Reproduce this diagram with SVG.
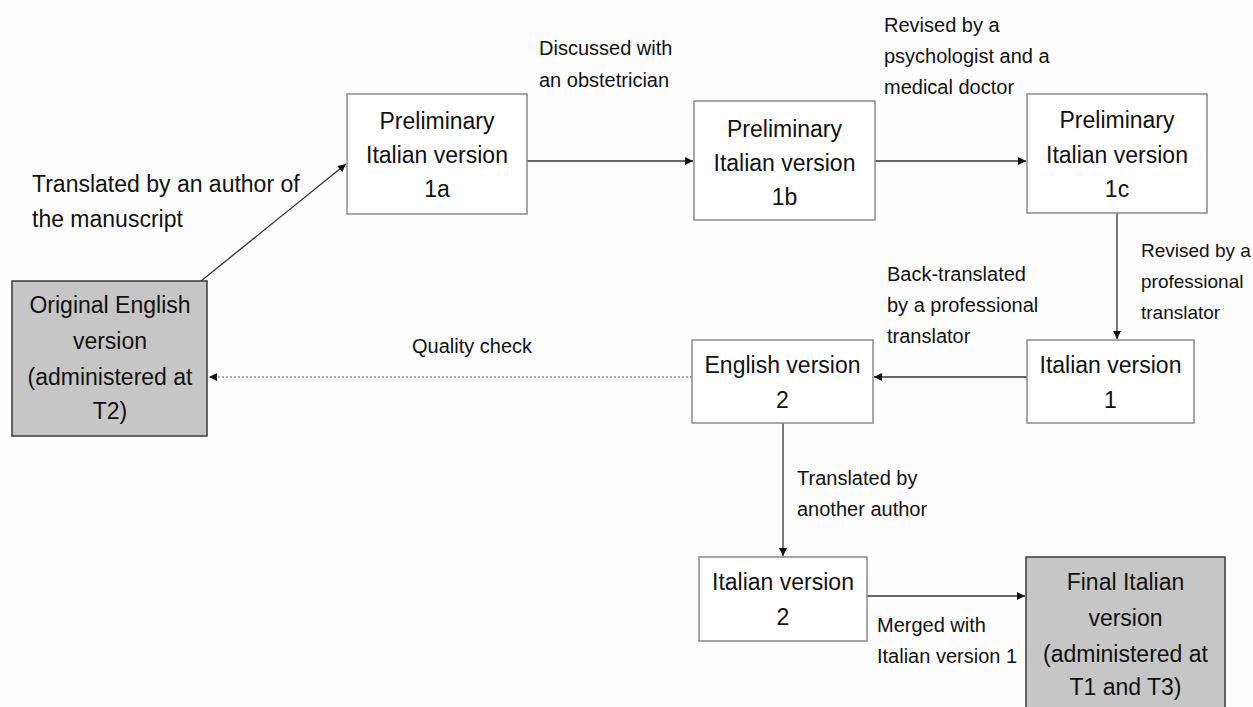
<svg xmlns="http://www.w3.org/2000/svg" width="1253" height="707" viewBox="0 0 1253 707">
<style>
  .box { fill: #ffffff; stroke: #8a8a8a; stroke-width: 1.5; }
  .gbox { fill: #c6c6c6; stroke: #3a3a3a; stroke-width: 1.5; }
  .t { font-family: "Liberation Sans", Arial, sans-serif; font-size: 23px; fill: #111; text-anchor: middle; }
  .lbl { font-family: "Liberation Sans", Arial, sans-serif; font-size: 20px; fill: #111; }
  .lbl19 { font-family: "Liberation Sans", Arial, sans-serif; font-size: 19px; fill: #111; }
  .lbl23 { font-family: "Liberation Sans", Arial, sans-serif; font-size: 23px; fill: #111; }
  .conn { stroke: #333; stroke-width: 1.3; fill: none; marker-end: url(#ah); }
  .dash { stroke: #555; stroke-width: 1.2; fill: none; stroke-dasharray: 2 2; marker-end: url(#ah); }
</style>
<defs>
  <marker id="ah" viewBox="0 0 10 10" refX="10" refY="5" markerWidth="9" markerHeight="8" markerUnits="userSpaceOnUse" orient="auto">
    <path d="M0,0 L10,5 L0,10 z" fill="#111"/>
  </marker>
</defs>
<rect width="1253" height="707" fill="#fdfdfd"/>

<g id="connectors">
  <line class="conn" x1="201" y1="281" x2="346" y2="164"/>
  <line class="conn" x1="527" y1="161" x2="693" y2="161"/>
  <line class="conn" x1="875" y1="161" x2="1026" y2="161"/>
  <line class="conn" x1="1117" y1="213" x2="1117" y2="339"/>
  <line class="conn" x1="1027" y1="377" x2="874" y2="377"/>
  <line class="dash" x1="692" y1="377" x2="209" y2="377"/>
  <line class="conn" x1="783" y1="423" x2="783" y2="556"/>
  <line class="conn" x1="867" y1="596" x2="1025" y2="596"/>
</g>

<g id="labels">
  <text class="lbl23" x="32" y="192">Translated by an author of</text>
  <text class="lbl23" x="32" y="227">the manuscript</text>
  <text class="lbl" x="539" y="55">Discussed with</text>
  <text class="lbl" x="539" y="87">an obstetrician</text>
  <text class="lbl" x="884" y="32">Revised by a</text>
  <text class="lbl" x="884" y="63">psychologist and a</text>
  <text class="lbl" x="884" y="94">medical doctor</text>
  <text class="lbl19" x="1141" y="257">Revised by a</text>
  <text class="lbl19" x="1141" y="288">professional</text>
  <text class="lbl19" x="1141" y="319">translator</text>
  <text class="lbl" x="887" y="281">Back-translated</text>
  <text class="lbl" x="887" y="312">by a professional</text>
  <text class="lbl" x="887" y="343">translator</text>
  <text class="lbl" x="412" y="353">Quality check</text>
  <text class="lbl" x="797" y="485">Translated by</text>
  <text class="lbl" x="797" y="516">another author</text>
  <text class="lbl" x="877" y="632">Merged with</text>
  <text class="lbl" x="877" y="663">Italian version 1</text>
</g>

<g id="node-original-english">
  <rect class="gbox" x="12" y="281" width="195" height="155"/>
  <text class="t" x="110" y="313">Original English</text>
  <text class="t" x="110" y="349">version</text>
  <text class="t" x="110" y="385">(administered at</text>
  <text class="t" x="110" y="419">T2)</text>
</g>

<g id="node-prelim-1a">
  <rect class="box" x="347" y="94" width="180" height="120"/>
  <text class="t" x="437" y="129">Preliminary</text>
  <text class="t" x="437" y="163">Italian version</text>
  <text class="t" x="437" y="197">1a</text>
</g>

<g id="node-prelim-1b">
  <rect class="box" x="694" y="101" width="181" height="119"/>
  <text class="t" x="784.5" y="137">Preliminary</text>
  <text class="t" x="784.5" y="171">Italian version</text>
  <text class="t" x="784.5" y="205">1b</text>
</g>

<g id="node-prelim-1c">
  <rect class="box" x="1027" y="94" width="180" height="119"/>
  <text class="t" x="1117" y="128">Preliminary</text>
  <text class="t" x="1117" y="163">Italian version</text>
  <text class="t" x="1117" y="197">1c</text>
</g>

<g id="node-italian-1">
  <rect class="box" x="1027" y="340" width="167" height="83"/>
  <text class="t" x="1110.5" y="373">Italian version</text>
  <text class="t" x="1110.5" y="408">1</text>
</g>

<g id="node-english-2">
  <rect class="box" x="692" y="340" width="181" height="83"/>
  <text class="t" x="782.5" y="373">English version</text>
  <text class="t" x="782.5" y="408">2</text>
</g>

<g id="node-italian-2">
  <rect class="box" x="699" y="557" width="168" height="84"/>
  <text class="t" x="783" y="590">Italian version</text>
  <text class="t" x="783" y="625">2</text>
</g>

<g id="node-final-italian">
  <rect class="gbox" x="1026" y="557" width="199" height="170"/>
  <text class="t" x="1125.5" y="590">Final Italian</text>
  <text class="t" x="1125.5" y="626">version</text>
  <text class="t" x="1125.5" y="662">(administered at</text>
  <text class="t" x="1125.5" y="695">T1 and T3)</text>
</g>
</svg>
